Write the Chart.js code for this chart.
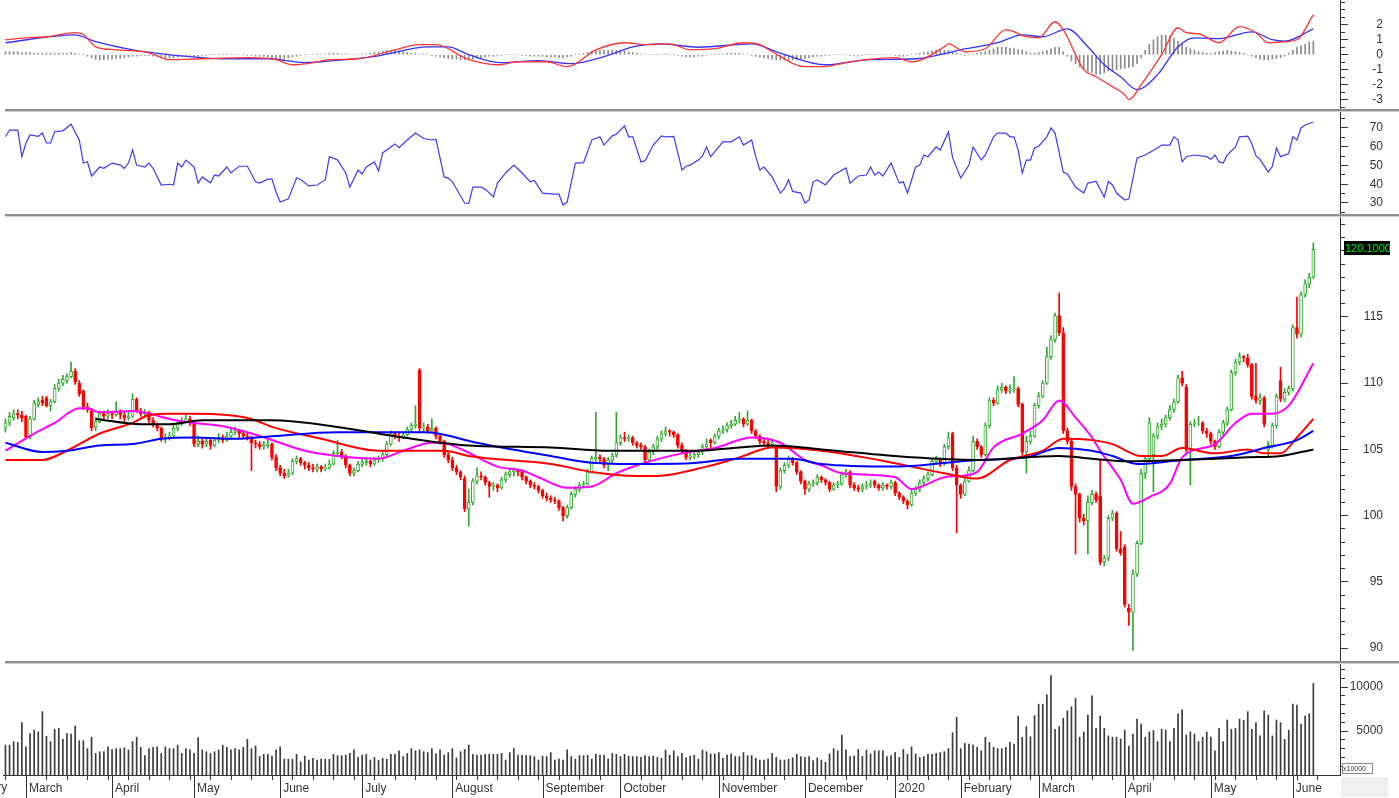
<!DOCTYPE html>
<html>
<head>
<meta charset="utf-8">
<script src="https://cdn.jsdelivr.net/npm/chart.js@4.4.1/dist/chart.umd.min.js"></script>
<style>
  body { margin: 0; background: #fff; width: 1399px; height: 798px; overflow: hidden; position: relative; font-family: "Liberation Sans", Arial, sans-serif; }
  canvas { position: absolute; left: 0; }
  .sep { position: absolute; left: 5px; width: 1394px; height: 0; border-top: 2px solid #8e8e8e; border-bottom: 1px solid #cfcfcf; }
  #lastPrice { position: absolute; left: 1344px; top: 241px; width: 45px; height: 14px; overflow: hidden; background: #000; color: #00e000; font-size: 11px; line-height: 14px; padding-left: 1px; white-space: nowrap; }
  #volUnit { position: absolute; left: 1342px; top: 763px; width: 29px; height: 9px; font-size: 7px; line-height: 9px; border: 1px solid #888; color: #333; background: #fff; overflow: hidden; white-space: nowrap; }
  #corner { position: absolute; left: 1341px; top: 777px; width: 47px; height: 20px; background: #efefef; }
</style>
</head>
<body>
<canvas id="macd" width="1399" height="109" style="top:0px"></canvas>
<div class="sep" style="top:109px"></div>
<canvas id="rsi" width="1399" height="102" style="top:112px"></canvas>
<div class="sep" style="top:214px"></div>
<canvas id="price" width="1399" height="444" style="top:217px"></canvas>
<div class="sep" style="top:661px"></div>
<canvas id="volume" width="1399" height="134" style="top:664px"></canvas>
<div id="corner"></div>
<div id="lastPrice">120.1000</div>
<div id="volUnit">x10000</div>
<script>
// daily candles [open, high, low, close], late Feb 2019 .. early Jun 2020
const candles = [
  [106.6,107.3,106.3,107.0],[107.0,107.8,106.8,107.5],[107.4,108.0,107.2,107.7],[107.7,108.0,107.3,107.6],[107.6,107.9,107.1,107.4],
  [107.5,107.6,105.8,105.9],[105.9,107.5,105.8,107.3],[107.3,108.7,107.2,108.5],[108.4,108.9,108.2,108.6],[108.7,109.0,108.3,108.5],
  [108.9,109.0,108.2,108.3],[108.3,108.8,107.9,108.6],[108.6,109.9,108.5,109.6],[109.6,110.3,109.4,110.0],[110.0,110.6,109.8,110.3],
  [110.2,110.7,110.0,110.5],[110.5,111.6,110.4,110.9],[110.9,111.1,109.9,110.1],[110.0,110.2,109.0,109.2],[109.4,109.5,108.0,108.2],
  [108.2,108.5,107.8,108.0],[107.9,108.1,106.4,106.6],[106.7,107.4,106.4,107.1],[107.1,107.9,107.0,107.7],[107.7,107.9,107.2,107.5],
  [107.5,108.0,107.3,107.7],[107.7,107.9,107.3,107.6],[107.6,108.6,107.5,107.9],[107.9,108.0,107.3,107.6],[107.6,107.8,107.1,107.4],
  [107.4,107.8,107.2,107.5],[107.5,109.2,107.4,108.8],[108.8,108.9,107.8,107.9],[107.9,108.1,107.5,107.7],[107.7,108.0,107.4,107.8],
  [107.8,107.9,107.0,107.2],[107.2,107.4,106.7,106.9],[106.9,107.0,106.4,106.6],[106.6,106.7,105.6,105.8],[105.8,106.2,105.5,105.9],
  [105.9,106.3,105.7,106.0],[106.0,106.8,105.9,106.6],[106.6,107.2,106.4,107.0],[107.0,107.4,106.8,107.1],[107.1,107.6,107.0,107.3],
  [107.3,107.5,106.8,107.0],[106.9,107.0,105.2,105.4],[105.4,106.0,105.2,105.6],[105.6,105.8,105.1,105.4],[105.4,105.9,105.2,105.6],
  [105.7,105.8,105.0,105.3],[105.3,105.9,105.2,105.7],[105.7,106.2,105.5,105.9],[105.9,106.1,105.5,105.7],[105.7,106.3,105.6,106.0],
  [106.0,106.6,105.9,106.3],[106.3,106.7,106.1,106.4],[106.4,106.5,105.9,106.2],[106.2,106.4,105.8,106.0],[106.0,106.3,105.7,105.9],
  [105.9,106.0,103.4,105.5],[105.5,105.7,105.1,105.4],[105.4,105.6,105.0,105.2],[105.2,105.6,105.0,105.3],[105.3,105.7,105.1,105.4],
  [105.4,105.5,104.2,104.4],[104.4,104.6,103.4,103.6],[103.6,103.8,103.0,103.2],[103.2,103.5,102.8,103.0],[103.0,103.5,102.9,103.2],
  [103.2,104.3,103.1,104.1],[104.1,104.5,103.9,104.3],[104.3,104.4,103.8,104.0],[104.0,104.1,103.5,103.8],[103.8,104.0,103.4,103.6],
  [103.6,103.9,103.3,103.5],[103.5,103.9,103.3,103.7],[103.7,103.8,103.3,103.5],[103.5,103.9,103.4,103.6],[103.6,104.2,103.5,103.9],
  [103.9,104.9,103.8,104.7],[104.7,105.7,104.5,104.8],[104.8,105.0,104.3,104.5],[104.5,104.6,103.6,103.8],[103.8,103.9,103.0,103.2],
  [103.2,103.6,103.0,103.4],[103.4,104.1,103.3,103.9],[103.9,104.3,103.7,104.0],[104.0,104.4,103.8,104.1],[104.1,104.2,103.7,103.9],
  [103.9,104.4,103.8,104.2],[104.2,104.5,104.0,104.3],[104.3,104.8,104.1,104.6],[104.6,105.6,104.5,105.4],[105.4,106.4,105.3,106.2],
  [106.2,106.3,105.8,106.0],[106.0,106.2,105.6,105.9],[105.9,106.3,105.8,106.1],[106.1,106.7,106.0,106.5],[106.5,107.0,106.3,106.8],
  [106.8,108.3,106.6,106.9],[111.0,111.1,106.4,106.6],[106.6,107.0,106.3,106.7],[106.7,106.9,106.2,106.4],[106.4,107.3,106.3,106.6],
  [106.6,106.7,105.8,106.0],[106.0,106.1,105.4,105.6],[105.6,105.7,104.4,104.6],[104.6,104.8,104.0,104.2],[104.2,104.4,103.4,103.6],
  [103.6,103.8,103.1,103.3],[103.3,103.4,102.7,102.9],[102.8,103.0,100.3,100.5],[100.5,102.0,99.2,101.0],[101.0,102.8,100.8,102.6],
  [102.6,103.6,102.4,103.0],[103.0,103.3,102.7,102.9],[102.9,103.0,102.3,102.5],[102.5,102.6,101.4,102.2],[102.2,102.5,101.9,102.3],
  [102.3,102.4,101.8,102.1],[102.1,102.9,102.0,102.7],[102.7,103.3,102.5,103.1],[103.1,103.5,102.9,103.3],[103.3,103.6,103.0,103.4],
  [103.4,103.5,103.0,103.3],[103.3,103.4,102.7,102.9],[102.9,103.0,102.4,102.6],[102.6,102.7,102.1,102.3],[102.3,102.5,102.0,102.2],
  [102.2,102.3,101.7,101.9],[101.9,102.0,101.3,101.5],[101.5,101.7,101.1,101.3],[101.3,101.5,101.0,101.2],[101.2,101.4,100.9,101.1],
  [101.1,101.2,100.4,100.6],[100.6,100.7,99.6,100.0],[100.0,100.8,99.8,100.6],[100.6,101.8,100.5,101.6],[101.6,102.2,101.4,102.0],
  [102.0,102.5,101.8,102.3],[102.3,102.6,102.1,102.4],[102.4,103.5,102.3,103.3],[103.3,104.5,103.2,104.3],[104.3,107.8,104.1,104.4],
  [104.4,104.6,104.0,104.3],[104.3,104.4,103.6,103.8],[103.8,104.4,103.4,104.2],[104.2,104.7,104.0,104.5],[104.6,107.8,104.4,105.5],
  [105.5,106.1,105.3,105.9],[105.9,106.3,105.6,105.8],[105.8,106.1,105.6,105.9],[105.9,106.0,105.3,105.5],[105.5,105.6,105.1,105.3],
  [105.3,105.5,105.0,105.2],[105.2,105.3,104.0,104.2],[104.2,105.0,104.1,104.8],[104.8,105.4,104.6,105.2],[105.2,106.0,105.0,105.8],
  [105.8,106.4,105.6,106.2],[106.2,106.7,106.0,106.4],[106.4,106.5,106.0,106.3],[106.3,106.4,105.9,106.1],[106.1,106.2,105.1,105.3],
  [105.3,105.5,104.7,104.9],[104.9,105.0,104.2,104.4],[104.4,104.8,104.2,104.5],[104.5,104.9,104.3,104.6],[104.6,105.0,104.4,104.8],
  [104.8,105.4,104.6,105.2],[105.2,105.8,105.0,105.4],[105.7,105.8,105.1,105.5],[105.5,106.2,105.4,106.0],[106.0,106.6,105.8,106.4],
  [106.4,106.8,106.2,106.5],[106.5,107.0,106.3,106.8],[106.8,107.2,106.6,106.9],[106.9,107.5,106.8,107.2],[107.2,107.8,107.0,107.3],
  [107.3,107.4,106.7,106.9],[106.9,107.9,106.8,107.2],[107.2,107.3,106.2,106.4],[106.4,106.5,105.8,106.0],[106.0,106.1,105.4,105.6],
  [105.6,105.9,105.3,105.5],[105.5,105.7,105.2,105.4],[105.4,105.8,105.2,105.5],[105.2,105.3,101.8,102.2],[102.2,103.6,102.0,103.4],
  [103.4,104.0,103.2,103.8],[103.8,104.5,103.6,104.3],[104.3,104.4,103.8,104.0],[104.0,104.1,103.1,103.3],[103.3,103.4,102.4,102.6],
  [102.6,102.7,101.6,102.0],[102.0,102.6,101.8,102.4],[102.4,102.7,102.2,102.5],[102.5,103.1,102.3,102.9],[102.9,103.0,102.5,102.7],
  [102.7,102.8,102.3,102.5],[102.5,102.6,101.8,102.0],[102.0,102.5,101.9,102.3],[102.3,102.6,102.1,102.4],[102.4,103.3,102.3,103.1],
  [103.1,103.5,102.9,103.3],[103.3,103.4,102.1,102.3],[102.3,102.5,101.9,102.1],[102.1,102.3,101.8,102.0],[102.0,102.4,101.8,102.2],
  [102.2,102.6,102.0,102.3],[102.3,102.7,102.1,102.4],[102.6,102.7,102.1,102.3],[102.3,102.4,101.9,102.1],[102.1,102.5,101.9,102.3],
  [102.3,102.4,102.0,102.2],[102.2,102.7,102.0,102.5],[102.5,102.6,101.5,101.7],[101.7,101.8,101.2,101.4],[101.4,101.5,100.9,101.1],
  [101.1,101.2,100.5,100.8],[100.8,101.9,100.7,101.7],[101.7,102.2,101.5,102.0],[102.0,102.7,101.8,102.5],[102.5,103.0,102.3,102.8],
  [102.8,103.3,102.6,103.1],[103.1,104.3,103.0,104.1],[104.1,104.5,103.9,104.2],[104.2,104.3,103.7,103.9],[103.9,105.4,103.8,105.2],
  [105.2,106.3,105.0,105.9],[106.2,106.3,103.4,103.6],[103.6,103.8,98.7,102.3],[102.3,102.4,101.3,101.6],[101.6,102.9,101.5,102.6],
  [102.6,103.7,102.5,103.4],[103.4,106.0,103.3,105.6],[105.6,105.8,105.0,105.2],[105.2,105.3,104.4,104.6],[104.6,107.0,104.5,106.8],
  [106.8,108.9,106.6,108.7],[108.7,108.9,108.3,108.5],[108.5,109.8,108.4,109.5],[109.5,110.0,109.3,109.7],[109.7,109.8,109.2,109.4],
  [109.4,109.9,109.2,109.5],[109.5,110.5,109.3,109.6],[109.6,109.7,108.2,108.4],[108.4,108.5,104.6,104.8],[104.8,106.0,103.2,105.6],
  [105.6,106.4,105.4,106.0],[106.0,108.5,105.9,108.3],[108.3,109.3,108.1,109.0],[109.0,110.2,108.9,110.0],[110.0,112.7,109.9,112.0],
  [112.0,113.6,111.8,113.3],[113.3,115.3,113.1,115.1],[115.1,116.8,113.6,113.8],[113.8,114.2,106.2,106.4],[106.4,106.6,105.4,105.6],
  [105.6,105.8,101.9,102.2],[102.2,102.4,97.1,101.6],[101.6,101.7,99.5,99.8],[99.8,100.1,99.3,99.6],[99.6,101.5,97.1,101.0],
  [101.0,101.9,100.8,101.6],[101.6,101.8,101.0,101.2],[101.5,104.2,96.3,96.5],[96.5,97.0,96.2,96.8],[96.8,100.0,96.6,99.8],
  [99.8,100.4,99.6,100.2],[100.2,100.3,97.3,97.5],[97.5,98.8,97.0,97.2],[97.6,97.8,93.1,93.3],[93.0,93.3,91.7,92.7],
  [92.7,95.9,89.8,95.6],[95.6,98.1,95.4,97.9],[97.9,103.5,97.8,103.2],[103.2,104.5,102.8,104.3],[104.3,107.4,104.1,107.0],
  [104.6,106.2,101.8,106.0],[106.0,107.0,105.8,106.7],[106.7,107.3,106.5,106.9],[106.9,107.6,106.7,107.4],[107.4,108.3,107.2,108.0],
  [108.0,108.8,107.8,108.6],[108.6,110.6,108.5,110.4],[110.4,110.9,109.8,110.0],[109.7,109.9,104.8,105.0],[105.0,107.1,102.3,106.9],
  [106.9,107.3,106.7,107.0],[107.0,107.5,106.8,107.0],[107.0,107.1,106.2,106.4],[106.4,106.6,105.9,106.2],[106.2,106.3,105.4,105.6],
  [105.6,105.7,105.0,105.2],[105.2,106.5,105.1,106.3],[106.3,107.2,106.1,107.0],[107.0,108.2,106.8,108.0],[108.0,111.0,107.9,110.8],
  [110.8,111.8,110.6,111.6],[111.6,112.3,111.4,112.0],[112.0,112.1,111.6,111.9],[111.9,112.2,111.2,111.4],[111.4,111.5,108.8,109.0],
  [109.0,111.5,108.5,108.7],[108.7,109.2,108.4,108.9],[108.9,109.0,106.7,106.9],[105.0,105.6,104.5,105.3],[105.3,107.0,105.1,106.8],
  [106.8,109.2,106.6,109.0],[110.2,111.2,108.6,108.8],[108.8,109.6,108.6,109.3],[109.3,109.8,109.1,109.6],[109.6,114.4,109.4,114.2],
  [114.2,116.5,113.4,113.7],[113.7,116.9,113.5,116.7],[116.7,117.8,116.5,117.5],[117.5,118.3,117.2,118.0],[118.0,120.6,117.9,120.1]
];

// volume (units of the x10000 axis)
const volume = [
  3400,3400,3800,3700,5950,3200,4700,5100,4900,7200, 4400,3800,5200,5300,4050,4700,4650,5550,3900,3900,
  3000,4300,2450,2650,2650,3200,2900,3000,3000,3100, 2850,3800,4300,3150,2200,3000,3150,3200,2450,3200,
  3000,3000,3400,2450,3000,2850,2450,4250,2850,2650, 2450,2650,2850,3400,3150,2850,3000,2850,3150,4050,
  3000,3300,2100,2350,2350,2150,2850,3200,1800,1800, 1800,2350,1500,2150,1700,1900,1700,1800,1800,1800,
  2350,2200,2200,2250,2450,2850,2000,2250,2350,1700, 2000,1650,1900,1800,2350,2350,2750,2100,2450,3000,
  2750,2850,2650,2550,3000,2400,2850,2250,2550,3000, 1950,2650,2900,3400,2350,2250,2250,2350,2350,2350,
  2350,2450,1700,2550,3000,2250,2250,2200,2200,2100, 1700,2150,2100,2550,1700,1800,1700,2850,2100,1800,
  2200,2200,2250,1800,2350,2250,2250,1800,2450,2350, 2100,2350,2150,2100,2100,2000,2200,2100,2150,2000,
  1900,2850,2250,2750,2100,2450,
  1950,2150,2250,1800,2850,2650,2400,2400,2550,1900, 2250,2400,2100,2100,2550,2200,2200,1900,1700,1700,
  1850,2450,2000,1700,1700,1800,1950,2350,2100,2000, 2100,1650,1950,1700,1450,2400,3000,2750,4550,2850,
  2100,2150,2900,2100,2850,2400,2750,2750,2750,2100, 2200,2550,2000,2900,2350,3200,2400,2000,2100,2350,
  2350,2450,2550,2650,3000,4800,6550,3000,3600,3500, 3400,3150,2750,4300,3700,3150,3000,3000,3150,3700,
  3500,6700,4300,5500,4350,6750,8050,8050,9100,11300, 5200,5500,6450,7300,7750,8700,4300,4900,6800,9000,
  5300,6700,5300,4450,4300,4300,4100,5100,3300,4650, 6350,5800,4300,4900,5050,3800,5200,5100,3800,5300,
  6950,7400,4550,4900,4650,3800,4300,4900,4300,2750, 5300,3800,6250,5200,5300,6350,6200,7200,5200,5950,
  4450,7300,6800,4450,6250,5950,4050,5100,8050,7950, 5800,6700,6950,10400
];

// moving averages: [day, value]
const maMagenta = [[0,104.9],[7,106.2],[12,107.0],[18,108.1],[20,108.1],[23,107.8],[31,107.9],[35,107.7],[40,107.3],[46,107.0],[52,106.8],[60,106.2],[66,105.6],[73,104.9],[81,104.5],[91,104.3],[97,104.9],[104,105.5],[108,105.4],[112,104.9],[120,103.7],[126,103.4],[130,102.9],[137,102.1],[143,102.2],[149,103.2],[155,103.9],[165,104.7],[173,105.1],[182,105.9],[189,105.5],[195,104.2],[199,103.8],[204,103.2],[217,102.9],[221,102.0],[229,102.9],[233,103.0],[237,103.3],[241,105.15],[248,106.2],[253,107.2],[257,108.7],[261,107.4],[265,105.9],[267,104.9],[272,102.7],[275,100.9],[279,101.4],[284,102.4],[287,104.4],[295,105.4],[300,107.0],[304,107.7],[309,107.7],[313,108.3],[319,111.5]];
const maRed = [[0,104.2],[9,104.2],[15,104.9],[23,106.2],[31,107.0],[35,107.6],[40,107.7],[46,107.7],[54,107.6],[60,107.3],[65,106.7],[77,105.8],[91,104.9],[101,104.9],[107,104.9],[113,104.5],[133,103.9],[143,103.3],[154,103.0],[159,103.0],[171,103.7],[179,104.4],[187,105.15],[199,104.9],[213,104.2],[229,103.2],[237,102.8],[245,104.2],[253,104.9],[258,105.8],[265,105.7],[270,105.4],[277,104.5],[282,104.5],[287,105.1],[295,104.7],[303,105.0],[307,104.7],[311,104.7],[315,105.9],[319,107.3]];
const maBlue = [[0,105.5],[9,104.8],[15,104.9],[23,105.3],[31,105.4],[38,105.8],[46,105.9],[56,105.8],[65,106.0],[81,106.3],[103,106.3],[107,106.1],[115,105.5],[133,104.5],[143,104.0],[155,103.9],[167,103.95],[179,104.3],[192,104.3],[199,103.9],[217,103.7],[237,104.2],[249,104.4],[257,105.1],[265,104.9],[270,104.5],[276,103.9],[287,104.2],[299,104.5],[307,105.1],[315,105.7],[319,106.4]];
const maBlack = [[22,107.3],[33,106.9],[40,106.9],[48,107.2],[56,107.2],[65,107.2],[81,106.7],[97,105.9],[113,105.3],[133,105.15],[147,104.9],[169,104.9],[179,105.15],[187,105.3],[199,105.0],[221,104.4],[237,104.2],[257,104.5],[265,104.3],[274,104.1],[287,104.2],[303,104.4],[311,104.5],[319,105.0]];

// MACD panel: [day, value]
const macdLine = [[0,1.0],[5,1.13],[10,1.2],[17,1.47],[19,1.35],[22,0.53],[27,0.33],[35,0.13],[40,-0.33],[48,-0.27],[59,-0.2],[66,-0.33],[70,-0.67],[75,-0.53],[79,-0.33],[86,-0.27],[95,0.33],[101,0.67],[105,0.67],[113,-0.33],[120,-0.67],[125,-0.47],[132,-0.47],[137,-0.8],[144,0.33],[151,0.8],[156,0.67],[162,0.73],[167,0.33],[173,0.4],[180,0.8],[184,0.67],[187,0.2],[195,-0.8],[199,-0.8],[206,-0.47],[217,-0.2],[221,-0.47],[229,0.53],[230,0.73],[234,0.2],[239,0.4],[244,1.67],[249,1.2],[252,1.13],[256,2.2],[258,1.67],[263,-1.0],[266,-1.47],[270,-2.13],[273,-2.67],[274,-3.0],[277,-2.0],[282,0],[286,1.8],[288,1.47],[291,1.4],[296,0.8],[301,1.87],[305,1.47],[308,0.8],[311,0.85],[315,1.0],[319,2.67]];
const signalLine = [[0,0.8],[17,1.33],[22,0.87],[31,0.33],[45,-0.13],[53,-0.27],[64,-0.27],[73,-0.53],[80,-0.4],[91,-0.07],[103,0.53],[108,0.53],[113,0],[121,-0.53],[130,-0.4],[138,-0.6],[146,-0.13],[153,0.53],[160,0.73],[169,0.5],[182,0.73],[189,0.1],[200,-0.67],[211,-0.33],[222,-0.27],[233,0.33],[242,0.8],[248,1.33],[253,1.2],[259,1.73],[264,0.53],[268,-0.67],[272,-1.47],[276,-2.33],[281,-1.33],[286,0.53],[290,1.13],[296,1.07],[304,1.53],[309,1.0],[312,0.9],[319,1.73]];
const macdHist = [
  .2,.2,.2,.2,.15,.15,.15,.1,.1,.1, .1,.1,.1,.1,.1,.1,.15,.1,.05,0,
  -.1,-.2,-.3,-.35,-.35,-.3,-.3,-.25,-.25,-.2, -.15,-.1,-.1,-.05,-.05,-.05,-.1,-.1,-.15,-.2,
  -.2,-.2,-.15,-.1,-.1,-.05,-.1,-.1,-.05,-.05, 0,0,0,.05,.05,.05,0,0,0,-.05,
  -.05,-.1,-.1,-.1,-.15,-.2,-.25,-.25,-.25,-.2, -.15,-.1,-.05,0,0,.05,.05,.05,.05,.1,
  .1,.1,.05,.05,0,0,0,.05,.05,.1, .15,.2,.25,.3,.3,.3,.25,.2,.15,.1,
  .1,.05,.05,0,-.05,-.1,-.15,-.2,-.25,-.3, -.3,-.35,-.35,-.3,-.3,-.25,-.2,-.15,-.1,-.1,
  -.05,-.05,0,0,0,0,-.05,-.05,-.1,-.1, -.1,-.1,-.15,-.15,-.15,-.2,-.2,-.15,-.1,0,
  .05,.1,.15,.2,.25,.3,.3,.3,.3,.3, .3,.25,.2,.15,.1,.05,0,0,0,.05,
  .05,.05,0,0,-.05,-.1,-.15,-.15,-.15,-.1, -.1,-.05,0,.05,.05,.05,.1,.1,.1,.1,
  .05,0,-.05,-.1,-.15,-.2,-.25,-.3,-.35,-.35, -.35,-.35,-.35,-.3,-.3,-.25,-.2,-.15,-.1,-.1,
  -.05,-.05,0,0,0,0,-.05,-.05,-.05,-.05, 0,0,0,0,0,0,0,-.05,-.1,-.1,
  -.05,0,.05,.1,.15,.2,.25,.3,.3,.3, .3,.2,.1,0,-.05,0,.05,.1,.15,.2,
  .3,.4,.5,.5,.5,.45,.4,.35,.3,.2, .1,.1,.15,.2,.3,.4,.5,.5,.2,-.1,
  -.4,-.6,-.8,-1.0,-1.1,-1.2,-1.3,-1.3,-1.2,-1.1, -1.1,-1.0,-.95,-.9,-.85,-.8,-.6,-.2,.3,.7,
  1.0,1.2,1.3,1.3,1.25,1.1,.9,.7,.5,.4, .3,.2,.15,.1,.1,.15,.2,.25,.3,.25,
  .2,.15,.1,0,-.1,-.2,-.3,-.35,-.35,-.3, -.25,-.2,-.1,.1,.3,.5,.6,.7,.85,.9
];

// RSI: [day, value]
const rsi = [[0,65.3],[1,68.9],[3,68.9],[4,54.7],[5,62],[6,66.3],[8,65.5],[9,67.3],[10,62],[11,62],[12,68],[14,68.5],[16,72],[18,63.6],[19,51.3],[20,52],[21,44.4],[23,49.2],[24,48.5],[26,51.3],[28,50.2],[29,48.5],[30,51.3],[31,58.3],[32,50.2],[34,49.2],[35,51.3],[36,48.5],[38,39.6],[40,40],[41,39.6],[42,51.3],[43,49.2],[44,52.9],[46,49.2],[47,40.6],[48,43.9],[50,40.8],[51,44.9],[52,44.4],[54,49.2],[55,46],[57,49.6],[59,49.6],[61,41.3],[62,40.6],[64,42.7],[65,42.7],[66,35.9],[67,30.5],[69,32.2],[71,43.3],[72,42.5],[74,39.1],[76,39.6],[78,42.3],[79,54.7],[81,52.9],[83,46],[84,38.5],[86,47.6],[87,45.5],[88,49.2],[90,51.9],[91,47.1],[92,56.7],[95,61.5],[96,59.5],[98,63.6],[100,67.3],[102,64.4],[104,63.6],[105,64],[107,43.9],[108,43.3],[109,41.3],[112,30],[113,29.8],[114,38.5],[116,38.5],[117,37.4],[119,33.2],[120,40.6],[122,46],[124,50.2],[126,46],[128,41.3],[129,42],[131,35.3],[134,34.7],[135,34.7],[136,28.9],[137,30.5],[139,51.3],[141,51.5],[143,63.6],[145,65.3],[146,60.9],[148,65.8],[149,66.7],[151,71.1],[152,65.3],[153,65.3],[155,51.9],[156,52.5],[158,60.9],[160,65.8],[161,65.3],[163,65.5],[165,47.6],[166,49.6],[167,50.2],[169,52.9],[170,55.1],[171,59.9],[172,54.7],[175,62.6],[177,62.6],[179,65.3],[180,60.9],[182,63.6],[183,54.7],[184,47.6],[185,49.2],[187,43.9],[189,35.3],[190,37.6],[191,42.3],[192,36.2],[194,35.3],[195,30],[196,31.6],[197,41.3],[198,42.3],[200,39.6],[202,44.9],[205,48.7],[206,40.6],[208,44.4],[210,44.9],[211,49.2],[212,44.9],[213,46.5],[214,44.4],[216,51.3],[218,40.6],[219,41.3],[220,35.3],[222,49.2],[223,50.2],[224,55.6],[225,54.7],[227,59.9],[228,58.2],[230,67.9],[231,54.2],[233,43.3],[235,50.2],[236,59.9],[238,52.9],[239,55.6],[241,65.3],[242,67.3],[244,67.3],[245,65.3],[246,65.3],[247,58.2],[248,46],[249,52.9],[250,52.9],[251,59.3],[252,60.3],[254,65.3],[255,70],[256,67.3],[258,46.5],[259,45.5],[261,38.5],[263,35.3],[264,40.6],[266,41.5],[268,33.2],[269,41.5],[270,39.6],[271,35.3],[273,31.6],[274,32.2],[276,54],[278,55.6],[281,59.3],[282,60.9],[284,60.9],[285,65.3],[286,63.6],[287,51.9],[288,54.7],[290,55.6],[293,54.7],[294,53.3],[295,55.6],[296,51.9],[297,51.3],[298,55.6],[300,59.9],[301,65.3],[303,65.6],[304,61.6],[305,55.1],[306,53.3],[308,46.5],[309,49.6],[310,59.3],[311,54.7],[313,56.4],[314,65.3],[315,63.6],[316,70],[317,71.6],[319,73.2]];

// time axis: first trading day of each month (day index) and its label
const monthStart = [5,26,46,67,87,109,131,150,174,195,217,233,252,273,294,314];
const monthNames = ['March','April','May','June','July','August','September','October','November','December','2020','February','March','April','May','June'];
const prevMonthStart = -12, prevMonthName = 'February';

// axis ticks (major ones carry labels)
const macdTicks = [-3.5,-3,-2.5,-2,-1.5,-1,-0.5,0,0.5,1,1.5,2,2.5,3,3.5];
const macdLabels = [-3,-2,-1,0,1,2];
const rsiTicks = [25,30,35,40,45,50,55,60,65,70,75];
const rsiLabels = [30,40,50,60,70];
const priceTicks = [90,91,92,93,94,95,96,97,98,99,100,101,102,103,104,105,106,107,108,109,110,111,112,113,114,115,116,117,118,119,120,121,122];
const priceLabels = [90,95,100,105,110,115];
const volTicks = [1000,2000,3000,4000,5000,6000,7000,8000,9000,10000,11000,12000];
const volLabels = [5000,10000];

const X_MIN = -0.6, X_MAX = 325.5;
const FONT = { family: '"Liberation Sans", Arial, sans-serif', size: 12 };
const GREEN = '#2fa82f', RED = '#ff0000';

function pts(pairs) { return pairs.map(p => ({ x: p[0], y: p[1] })); }

function xHidden() {
  return { type: 'linear', min: X_MIN, max: X_MAX, offset: false, display: false, grid: { offset: false } };
}

// right-hand value axis; major ticks get a long mark and a label, minor ones a short mark
function yRight(min, max, tickList, majors, labelOf) {
  const isMajor = v => majors.indexOf(v) >= 0;
  return {
    position: 'right', min: min, max: max,
    afterBuildTicks: s => { s.ticks = tickList.map(v => ({ value: v })); },
    afterFit: s => { s.width = 43; s.paddingTop = 0; s.paddingBottom = 0; },
    ticks: { callback: v => isMajor(v) ? labelOf(v) : '', font: FONT, color: '#333', padding: 4, crossAlign: 'far', autoSkip: false },
    grid: { drawOnChartArea: false, tickLength: 8, color: '#333',
            tickBorderDash: c => (c.tick && isMajor(c.tick.value)) ? [] : [4, 30] },
    border: { color: '#333' }
  };
}

const baseOpts = {
  responsive: false, animation: false, events: [],
  layout: { padding: { left: 3, right: 16, top: 0, bottom: 0 } },
  plugins: { legend: { display: false }, tooltip: { enabled: false } }
};

// MACD
new Chart(document.getElementById('macd'), {
  type: 'line',
  data: { datasets: [
    { type: 'line', data: pts(macdLine), borderColor: '#ff3333', borderWidth: 1.3, pointRadius: 0, cubicInterpolationMode: 'monotone', order: 0 },
    { type: 'line', data: pts(signalLine), borderColor: '#3333ff', borderWidth: 1.3, pointRadius: 0, cubicInterpolationMode: 'monotone', order: 1 },
    { type: 'bar', data: macdHist.map((v, i) => ({ x: i, y: v })), backgroundColor: '#8a8a8a', barThickness: 1, grouped: false, order: 2 }
  ] },
  options: Object.assign({}, baseOpts, { scales: {
    x: xHidden(),
    y: yRight(-3.62, 3.65, macdTicks, macdLabels, v => String(v))
  } })
});

// RSI
new Chart(document.getElementById('rsi'), {
  type: 'line',
  data: { datasets: [
    { data: pts(rsi), borderColor: '#3b3bf5', borderWidth: 1.2, pointRadius: 0, tension: 0 }
  ] },
  options: Object.assign({}, baseOpts, { scales: {
    x: xHidden(),
    y: yRight(24.13, 78.53, rsiTicks, rsiLabels, v => String(v))
  } })
});

// price: candles + moving averages
const up = candles.map(c => c[3] >= c[0]);
new Chart(document.getElementById('price'), {
  type: 'line',
  data: { datasets: [
    { type: 'line', data: pts(maBlack), borderColor: '#000000', borderWidth: 2, pointRadius: 0, cubicInterpolationMode: 'monotone', order: 0 },
    { type: 'line', data: pts(maBlue), borderColor: '#0000ff', borderWidth: 2, pointRadius: 0, cubicInterpolationMode: 'monotone', order: 0 },
    { type: 'line', data: pts(maRed), borderColor: '#ff0000', borderWidth: 2, pointRadius: 0, cubicInterpolationMode: 'monotone', order: 0 },
    { type: 'line', data: pts(maMagenta), borderColor: '#ff00ff', borderWidth: 2, pointRadius: 0, cubicInterpolationMode: 'monotone', order: 0 },
    { type: 'bar', data: candles.map((c, i) => ({ x: i, y: [c[0], c[3]] })),
      backgroundColor: up.map(u => u ? '#ffffff' : RED), borderColor: up.map(u => u ? GREEN : RED),
      borderWidth: 1, borderSkipped: false, barThickness: 3, grouped: false, order: 1 },
    { type: 'bar', data: candles.map((c, i) => ({ x: i, y: [c[2], c[1]] })),
      backgroundColor: up.map(u => u ? GREEN : RED), barThickness: 1, grouped: false, order: 2 }
  ] },
  options: Object.assign({}, baseOpts, { scales: {
    x: xHidden(),
    y: yRight(89.02, 122.55, priceTicks, priceLabels.concat([120]), v => v === 120 ? '' : String(v))
  } })
});

// week / month marks under the time axis
const timeMarks = {
  id: 'timeMarks',
  afterDraw(chart) {
    const { ctx, chartArea } = chart;
    const x = chart.scales.x;
    const y0 = chartArea.bottom;
    ctx.save();
    ctx.strokeStyle = '#333';
    ctx.lineWidth = 1;
    ctx.beginPath();
    for (let d = 0; d < candles.length + 5; d += 5) {
      const px = Math.round(x.getPixelForValue(d)) + 0.5;
      ctx.moveTo(px, y0); ctx.lineTo(px, y0 + 5);
    }
    monthStart.concat([prevMonthStart]).forEach(d => {
      const px = Math.round(x.getPixelForValue(d)) + 0.5;
      ctx.moveTo(px, y0); ctx.lineTo(px, chart.height);
    });
    ctx.stroke();
    ctx.fillStyle = '#333';
    ctx.font = '12px "Liberation Sans", Arial, sans-serif';
    ctx.textBaseline = 'top';
    ctx.fillText(prevMonthName, x.getPixelForValue(prevMonthStart) + 3, y0 + 7);
    ctx.restore();
  }
};

// volume
new Chart(document.getElementById('volume'), {
  type: 'line',
  data: { datasets: [
    { type: 'bar', data: volume.map((v, i) => ({ x: i, y: v })), backgroundColor: '#3a3a3a', barThickness: 1, grouped: false }
  ] },
  options: Object.assign({}, baseOpts, { scales: {
    x: {
      type: 'linear', min: X_MIN, max: X_MAX, offset: false, position: 'bottom',
      afterBuildTicks: s => { s.ticks = monthStart.map(v => ({ value: v })); },
      afterFit: s => { s.height = 23; s.paddingLeft = 0; s.paddingRight = 0; },
      ticks: { callback: (v, i) => monthNames[i], font: FONT, color: '#333', align: 'start', labelOffset: 3, padding: 6, maxRotation: 0, minRotation: 0, autoSkip: false },
      grid: { drawOnChartArea: false, drawTicks: false, offset: false },
      border: { color: '#333' }
    },
    y: yRight(0, 12614, volTicks, volLabels, v => String(v))
  } }),
  plugins: [timeMarks]
});
</script>
</body>
</html>
